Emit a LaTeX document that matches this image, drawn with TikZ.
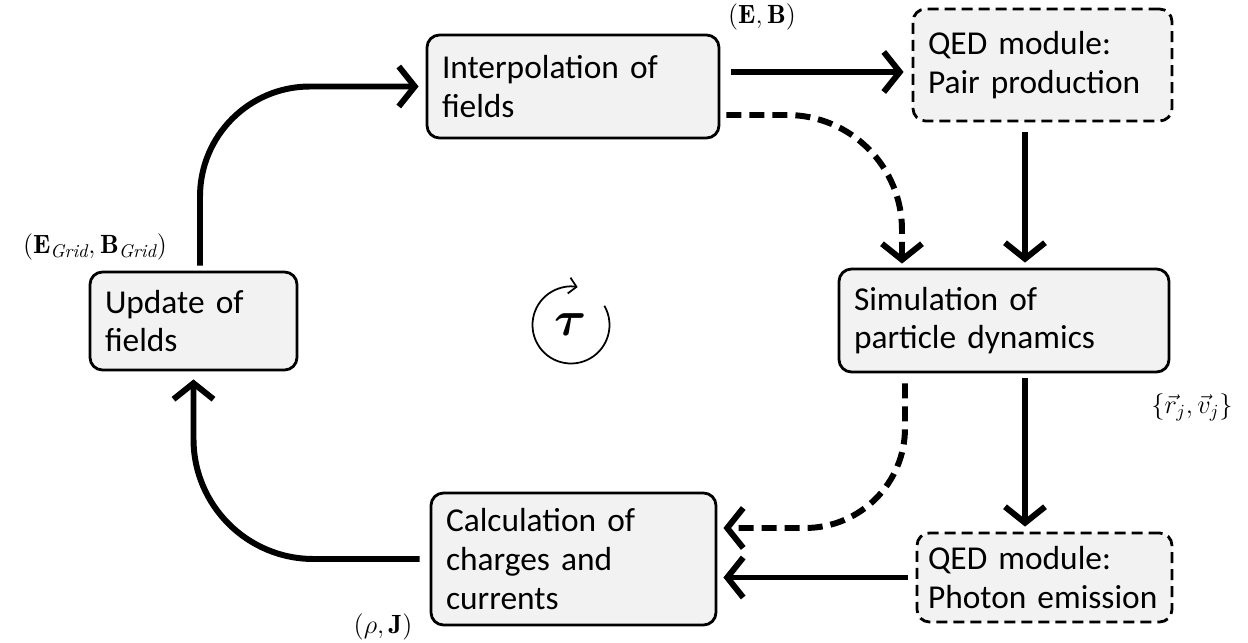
\RequirePackage{fix-cm}
\documentclass[tikz,border=0pt]{standalone}
\usepackage{amsmath}
\usepackage{amssymb}
\usepackage{bm}
\usepackage{fontspec}
\newfontfamily\boxfont{Carlito}
\usetikzlibrary{calc,arrows.meta}
\definecolor{boxgray}{HTML}{F2F2F2}

\begin{document}
\begin{tikzpicture}[
    box/.style={draw, line width=1.6pt, rounded corners=2.5mm, fill=boxgray, align=left,
        inner xsep=0.3cm, inner ysep=0pt, font=\boxfont\fontsize{19}{22}\selectfont},
    qedbox/.style={box, dash pattern=on 2.2mm off 1.2mm},
    flow/.style={line width=3.4pt, -{Straight Barb[length=3.2mm,width=8mm]}},
    dflow/.style={flow, dash pattern=on 3mm off 1.6mm},
    lbl/.style={font=\fontsize{15}{18}\selectfont, inner sep=0pt}
]
    \useasboundingbox (0,0) rectangle (24.96,12.84);

    % Boxes
    \node[box, text width=5.24cm, minimum height=2.06cm] (interp) at (11.46,11.11) {Interpolation of\\fields};
    \node[qedbox, text width=4.58cm, minimum height=2.24cm] (pair) at (20.85,11.54) {QED module:\\Pair production};
    \node[box, text width=6.0cm, minimum height=2.06cm] (sim) at (20.08,6.43) {Simulation of\\particle dynamics};
    \node[box, text width=3.54cm, minimum height=1.96cm] (update) at (3.87,6.42) {Update of\\fields};
    \node[box, text width=5.1cm, minimum height=2.64cm] (calc) at (11.47,1.66) {Calculation of\\charges and\\currents};
    \node[qedbox, inner xsep=0.22cm, text width=4.66cm, minimum height=1.78cm] (photon) at (20.89,1.29) {QED module:\\Photon emission};

    % Labels
    \node[lbl] (eb) at (15.24,12.5) {$(\mathbf{E},\mathbf{B})$};
    \node[lbl] (egrid) at (1.9,7.9) {$(\mathbf{E}_{\mathit{Grid}},\mathbf{B}_{\mathit{Grid}})$};
    \node[lbl] (rv) at (23.84,4.7) {$\{\vec{r}_j,\vec{v}_j\}$};
    \node[lbl] (rhoj) at (7.66,0.3) {$(\rho,\mathbf{J})$};

    % Time step
    \node (tau) at (11.42,6.34) {\fontsize{28}{30}\selectfont$\bm{\tau}$};
    \draw[line width=1pt, -{Straight Barb[length=1.5mm,width=3.2mm]}] (tau.center) ++(30:0.77) arc[start angle=30, end angle=-280, radius=0.77];

    % Arrows
    \coordinate (ie) at ([yshift=0.29cm]interp.east);
    \draw[flow, shorten <=0.22cm, shorten >=0.16cm] (ie) -- (ie -| pair.west);

    \coordinate (ps) at ([xshift=-0.35cm]pair.south);
    \draw[flow, shorten <=0.2cm, shorten >=0.1cm] (ps) -- (ps |- sim.north);

    \coordinate (ss) at ([xshift=0.42cm]sim.south);
    \draw[flow, shorten <=0.1cm, shorten >=0.1cm] (ss) -- (ss |- photon.north);

    \draw[flow, shorten <=0.16cm, shorten >=0.12cm] (photon.west) -- (photon.west -| calc.east);

    \draw[flow, rounded corners=2.4cm, shorten <=0.2cm, shorten >=0.16cm] (calc.west) -| (update.south);

    \coordinate (us) at ([xshift=0.13cm]update.north);
    \draw[flow, rounded corners=2.2cm, shorten <=0.1cm, shorten >=0.14cm] (us) |- (interp.west);

    % Optional paths
    \coordinate (id) at ([yshift=-0.57cm]interp.east);
    \coordinate (sn) at ([xshift=-2.04cm]sim.north);
    \draw[dflow, rounded corners=2.3cm, shorten <=0.12cm, shorten >=0.08cm] (id) -| (sn);

    \coordinate (sd) at ([xshift=-1.98cm]sim.south);
    \coordinate (ce) at ([yshift=0.62cm]calc.east);
    \draw[dflow, rounded corners=2cm, shorten <=0.2cm, shorten >=0.12cm] (sd) |- (ce);
\end{tikzpicture}
\end{document}
